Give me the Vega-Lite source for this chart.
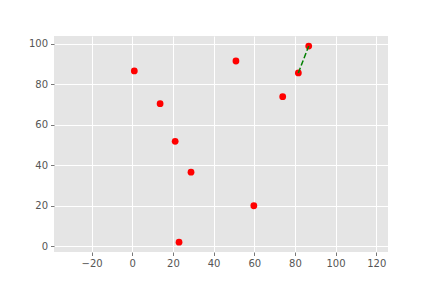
{
  "$schema": "https://vega.github.io/schema/vega-lite/v6.json",
  "autosize": {"type": "none"},
  "padding": {"left": 54, "top": 36, "right": 44, "bottom": 36},
  "width": 334,
  "height": 216,
  "background": "white",
  "config": {
    "view": {"fill": "#E5E5E5", "stroke": null},
    "axis": {
      "domain": false,
      "grid": true,
      "gridColor": "white",
      "gridWidth": 1,
      "tickColor": "#555555",
      "tickSize": 3.5,
      "tickWidth": 0.8,
      "labelColor": "#555555",
      "labelFont": "DejaVu Sans",
      "labelFontSize": 10,
      "labelPadding": 3,
      "title": null
    }
  },
  "datasets": {
    "pts": [
      {"x": 1.0, "y": 86.6},
      {"x": 13.7, "y": 70.4},
      {"x": 21.1, "y": 51.8},
      {"x": 28.9, "y": 36.6},
      {"x": 23.0, "y": 2.0},
      {"x": 51.0, "y": 91.5},
      {"x": 59.8, "y": 20.0},
      {"x": 74.0, "y": 73.9},
      {"x": 81.7, "y": 85.6},
      {"x": 86.8, "y": 98.9}
    ],
    "seg": [
      {"x": 81.7, "y": 85.6},
      {"x": 86.8, "y": 98.9}
    ]
  },
  "layer": [
    {
      "data": {"name": "pts"},
      "mark": {"type": "point", "filled": true, "shape": "circle", "color": "red", "opacity": 1, "size": 46},
      "encoding": {
        "x": {"field": "x", "type": "quantitative", "scale": {"domain": [-38.5, 125.8], "nice": false, "zero": false},
              "axis": {"values": [-20, 0, 20, 40, 60, 80, 100, 120]}},
        "y": {"field": "y", "type": "quantitative", "scale": {"domain": [-2.85, 103.85], "nice": false, "zero": false},
              "axis": {"values": [0, 20, 40, 60, 80, 100]}}
      }
    },
    {
      "data": {"name": "seg"},
      "mark": {"type": "line", "color": "green", "strokeWidth": 1.5, "strokeDash": [5.5, 2.4]},
      "encoding": {
        "x": {"field": "x", "type": "quantitative"},
        "y": {"field": "y", "type": "quantitative"}
      }
    }
  ]
}
